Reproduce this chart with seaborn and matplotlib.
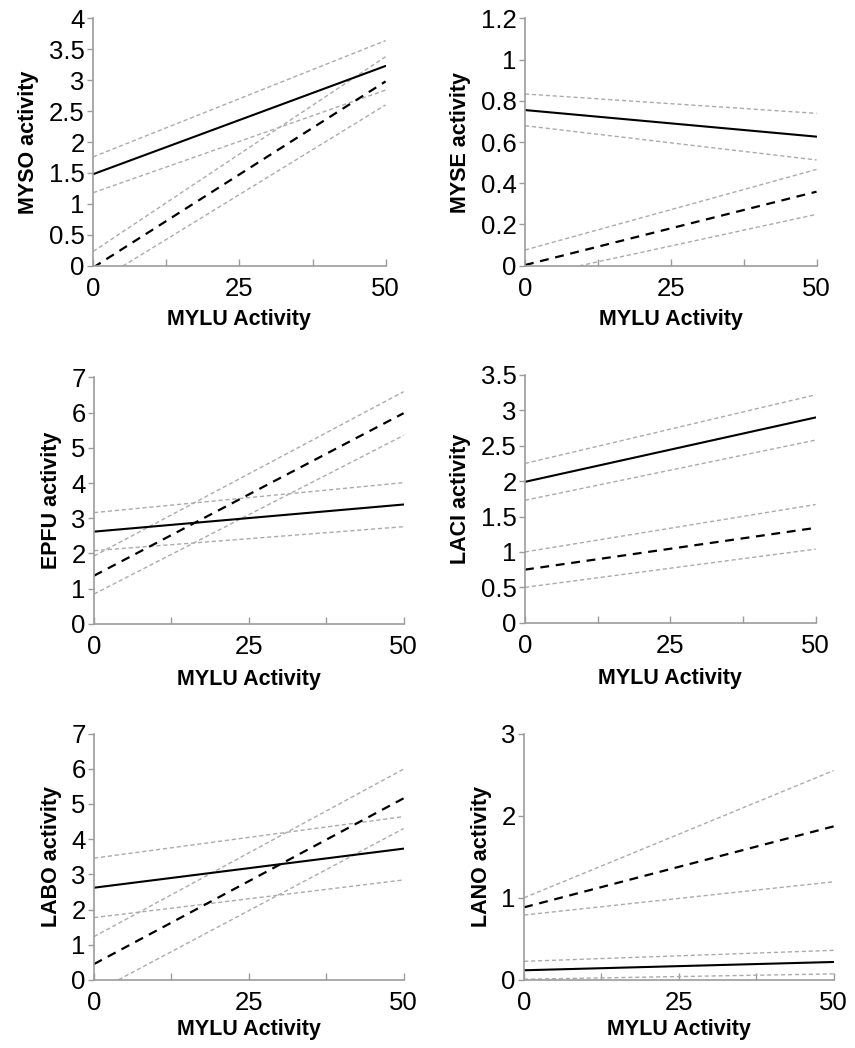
import matplotlib
matplotlib.use("Agg")
import matplotlib.pyplot as plt
import pandas as pd
import seaborn as sns
import numpy as np

# x values (MYLU activity) at the two ends of every fitted line
mylu_x = [0, 50]

# y values at x=0 and x=50
# "fit" = solid black line, "fit_hi"/"fit_lo" = its grey band
# "alt" = black dashed line, "alt_hi"/"alt_lo" = its grey band
myso = {"fit": [1.48, 3.23], "fit_hi": [1.76, 3.64], "fit_lo": [1.18, 2.84],
        "alt": [-0.03, 2.98], "alt_hi": [0.23, 3.38], "alt_lo": [-0.30, 2.60]}
myse = {"fit": [0.755, 0.626], "fit_hi": [0.833, 0.739], "fit_lo": [0.679, 0.513],
        "alt": [0.003, 0.359], "alt_hi": [0.076, 0.467], "alt_lo": [-0.058, 0.249]}
epfu = {"fit": [2.62, 3.39], "fit_hi": [3.16, 4.01], "fit_lo": [2.08, 2.76],
        "alt": [1.37, 5.98], "alt_hi": [1.93, 6.59], "alt_lo": [0.85, 5.35]}
laci = {"fit": [1.99, 2.90], "fit_hi": [2.25, 3.22], "fit_lo": [1.73, 2.58],
        "alt": [0.75, 1.34], "alt_hi": [1.00, 1.67], "alt_lo": [0.50, 1.04]}
labo = {"fit": [2.62, 3.73], "fit_hi": [3.46, 4.64], "fit_lo": [1.77, 2.84],
        "alt": [0.45, 5.16], "alt_hi": [1.23, 5.99], "alt_lo": [-0.365, 4.30]}
lano = {"fit": [0.117, 0.218], "fit_hi": [0.226, 0.36], "fit_lo": [0.008, 0.073],
        "alt": [0.884, 1.87], "alt_hi": [1.00, 2.55], "alt_lo": [0.79, 1.195]}

panels = [("MYSO", myso, 4, [0, 0.5, 1, 1.5, 2, 2.5, 3, 3.5, 4]),
          ("MYSE", myse, 1.2, [0, 0.2, 0.4, 0.6, 0.8, 1, 1.2]),
          ("EPFU", epfu, 7, [0, 1, 2, 3, 4, 5, 6, 7]),
          ("LACI", laci, 3.5, [0, 0.5, 1, 1.5, 2, 2.5, 3, 3.5]),
          ("LABO", labo, 7, [0, 1, 2, 3, 4, 5, 6, 7]),
          ("LANO", lano, 3, [0, 1, 2, 3])]

# axes boxes (left, bottom, width, height) in figure fractions
boxes = [[0.109, 0.7465, 0.342, 0.236], [0.614, 0.7465, 0.341, 0.236],
         [0.110, 0.4046, 0.362, 0.2354], [0.614, 0.4058, 0.340, 0.2364],
         [0.110, 0.065, 0.362, 0.2350], [0.613, 0.065, 0.362, 0.2350]]
# bottom row label sits a little tighter so it stays inside the figure
xlabel_pads = [6, 6, 7, 7, 3, 3]

sns.set_style("white")
plt.rcParams['font.family'] = ['Liberation Sans', 'DejaVu Sans']

grey = "#ababab"
axis_grey = "#9c9c9c"
palette = {"fit": "black", "fit_hi": grey, "fit_lo": grey,
           "alt": "black", "alt_hi": grey, "alt_lo": grey}
dashes = {"fit": "", "fit_hi": (3, 2), "fit_lo": (3, 2),
          "alt": (4, 3), "alt_hi": (3, 2), "alt_lo": (3, 2)}
widths = {"fit": 1.5, "fit_hi": 1.0, "fit_lo": 1.0,
          "alt": 1.6, "alt_hi": 1.0, "alt_lo": 1.0}

fig = plt.figure(figsize=(8.55, 10.48), dpi=100)

for (name, lines, ymax, yticks), box, lpad in zip(panels, boxes, xlabel_pads):
    ax = fig.add_axes(box)
    # long form table for seaborn
    rows = []
    for key, ys in lines.items():
        for x, y in zip(mylu_x, ys):
            rows.append({"x": x, "y": y, "line": key})
    df = pd.DataFrame(rows)
    # grey bands first, black lines on top
    order = ["fit_hi", "fit_lo", "alt_hi", "alt_lo", "fit", "alt"]
    for key in order:
        sub = df[df["line"] == key]
        sns.lineplot(data=sub, x="x", y="y", ax=ax, color=palette[key],
                     lw=widths[key], legend=False, estimator=None, sort=False)
        line = ax.lines[-1]
        if dashes[key]:
            line.set_dashes(dashes[key])

    ax.set_xlim(0, 50)
    ax.set_ylim(0, ymax)
    ax.set_xticks([0, 25, 50])
    ax.set_xticks([12.5, 37.5], minor=True)
    ax.set_yticks(yticks)
    ax.set_yticklabels([f"{t:g}" for t in yticks])
    for s in ["top", "right"]:
        ax.spines[s].set_visible(False)
    for s in ["left", "bottom"]:
        ax.spines[s].set_color(axis_grey)
        ax.spines[s].set_linewidth(1.2)
    ax.tick_params(axis="x", which="both", bottom=True, direction="in", length=5,
                   color=axis_grey, width=1.0, labelsize=18.5, labelcolor="black", pad=8)
    ax.tick_params(axis="y", left=True, direction="out", length=4, color=axis_grey,
                   width=1.0, labelsize=18.5, labelcolor="black", pad=2)
    ax.set_xlabel("MYLU Activity", fontsize=15.5, fontweight="bold", labelpad=lpad,
                  color="black")
    ax.set_ylabel(f"{name} activity", fontsize=15.5, fontweight="bold", labelpad=7,
                  color="black")

plt.savefig("out.png", dpi=100)
